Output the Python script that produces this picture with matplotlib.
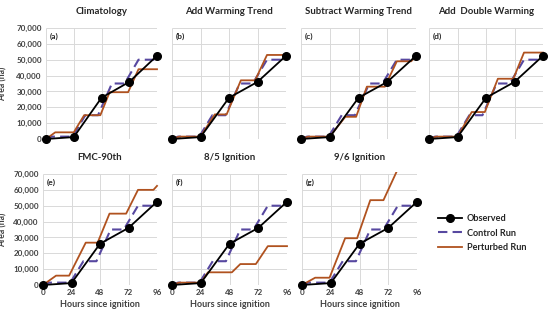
import matplotlib
matplotlib.use("Agg")
import matplotlib.pyplot as plt
from matplotlib.transforms import Bbox, TransformedBbox

plt.rcParams['font.family'] = ['Lato', 'DejaVu Sans']

# ---- data ----
obs_t = [0, 24, 48, 72, 96]
obs_v = [0, 1200, 26000, 36000, 52500]

ctrl_t = [0, 5, 23, 34, 45, 57, 68, 80, 96]
ctrl_v = [0, 1500, 1500, 15000, 15000, 35000, 35000, 50000, 50000]

titles = ["Climatology", "Add Warming Trend", "Subtract Warming Trend", "Add  Double Warming",
          "FMC-90th", "8/5 Ignition", "9/6 Ignition"]
letters = ["(a)", "(b)", "(c)", "(d)", "(e)", "(f)", "(g)"]

pert_a_t = [0, 8, 24, 33, 47, 55, 71, 80, 96]
pert_a_v = [0, 4200, 4200, 15000, 15000, 29500, 29500, 44000, 44000]
pert_b_t = [0, 6, 24, 36, 46, 58, 70, 80, 96]
pert_b_v = [0, 1500, 1500, 15500, 15500, 37000, 37000, 53000, 53000]
pert_c_t = [0, 6, 24, 37, 46, 55, 70, 80, 92, 96]
pert_c_v = [0, 1500, 1500, 14000, 14000, 33000, 33000, 49000, 49000, 52500]
pert_d_t = [0, 6, 24, 36, 47, 58, 71, 80, 96]
pert_d_v = [0, 1500, 1500, 17000, 17000, 38000, 38000, 54500, 54500]
pert_e_t = [0, 11, 22, 36, 46, 56, 70, 80, 93, 96]
pert_e_v = [0, 5900, 5900, 26700, 26700, 45000, 45000, 60000, 60000, 62500]
pert_f_t = [0, 6, 24, 30, 50, 57, 70, 80, 96]
pert_f_v = [0, 1500, 1500, 8000, 8000, 13200, 13200, 24500, 24500]
pert_g_t = [0, 11, 23, 36, 46, 57, 68, 79]
pert_g_v = [0, 4600, 4600, 29500, 29500, 53500, 53500, 71500]

pert_t = [pert_a_t, pert_b_t, pert_c_t, pert_d_t, pert_e_t, pert_f_t, pert_g_t]
pert_v = [pert_a_v, pert_b_v, pert_c_v, pert_d_v, pert_e_v, pert_f_v, pert_g_v]

xticks = [0, 24, 48, 72, 96]
yticks = [0, 10000, 20000, 30000, 40000, 50000, 60000, 70000]
ytick_labels = ["0", "10,000", "20,000", "30,000", "40,000", "50,000", "60,000", "70,000"]

# ---- layout (pixel extents of data area) ----
W, H = 550, 320
boxes = [(46, 157, 28, 139), (172, 286, 28, 139), (301, 416, 28, 139), (429, 543, 28, 139),
         (43, 157, 174, 285), (172, 287, 174, 285), (302, 417, 174, 285)]

OBS_C = "black"
CTRL_C = "#5748A0"
PERT_C = "#B0521F"
GRID_C = "#D9D9D9"
TXT_C = "#404040"

fig = plt.figure(figsize=(W / 100, H / 100), dpi=100)

for i, (x0, x1, y0, y1) in enumerate(boxes):
    ax = fig.add_axes([x0 / W, 1 - y1 / H, (x1 - x0) / W, (y1 - y0) / H])
    ax.set_xlim(0, 96)
    ax.set_ylim(0, 70000)
    for s in ax.spines.values():
        s.set_visible(False)
    ax.hlines(yticks, 0, 96, color=GRID_C, lw=0.7, zorder=0)
    ax.vlines(xticks, 0, 70000, color=GRID_C, lw=0.7, zorder=0)

    clip = TransformedBbox(Bbox([[-3, -3000], [99, 71500]]), ax.transData)
    lc, = ax.plot(ctrl_t, ctrl_v, color=CTRL_C, lw=1.5, dashes=(4.5, 2.5), zorder=2, clip_on=False)
    lp, = ax.plot(pert_t[i], pert_v[i], color=PERT_C, lw=1.3, zorder=3)
    lp.set_clip_box(clip)
    lo, = ax.plot(obs_t, obs_v, color=OBS_C, lw=1.3, marker='o', ms=5.5, zorder=4, clip_on=False)

    ax.set_xticks(xticks)
    ax.set_yticks(yticks)
    ax.tick_params(length=0, pad=3, labelsize=5.8, colors=TXT_C)
    if i in (0, 4):
        ax.set_yticklabels(ytick_labels, fontweight='bold')
        ax.set_ylabel("Area (ha)", fontsize=6.2, fontweight='bold', color=TXT_C)
        ax.yaxis.set_label_coords((8 - x0) / (x1 - x0), 0.5)
    else:
        ax.set_yticklabels([])
    if i >= 4:
        ax.set_xticklabels([str(t) for t in xticks], fontweight='bold')
        ax.set_xlabel("Hours since ignition", fontsize=6.5, fontweight='bold', color=TXT_C, labelpad=3)
    else:
        ax.set_xticklabels([])
    ax.set_title(titles[i], fontsize=6.9, fontweight='bold', color="#262626", pad=10)
    ax.text(0.03, 0.96, letters[i], transform=ax.transAxes, fontsize=6, fontweight='bold',
            color="#262626", va='top', ha='left')
    if i == 0:
        handles = [lo, lc, lp]

fig.legend(handles, ["Observed", "Control Run", "Perturbed Run"], loc='center left',
           bbox_to_anchor=(430 / W, 1 - 233 / H), frameon=False,
           handlelength=2.6, labelspacing=0.6, handletextpad=0.5,
           prop={'weight': 'bold', 'size': 6.6})
for t in fig.legends[0].get_texts():
    t.set_color("#262626")

fig.savefig("out.png", dpi=100)
